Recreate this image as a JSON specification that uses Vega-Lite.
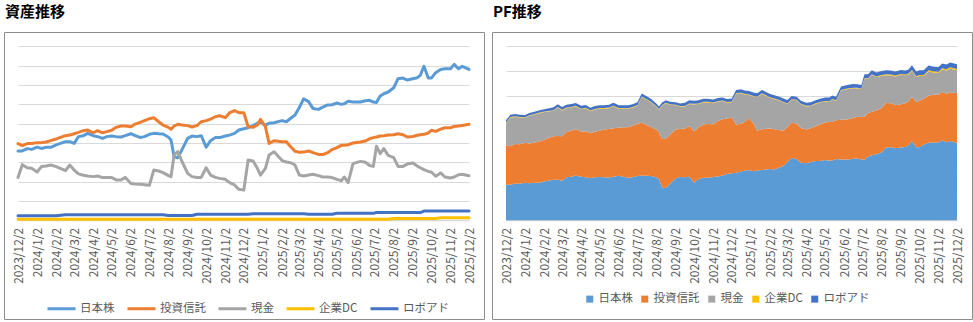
{
  "$schema": "https://vega.github.io/schema/vega-lite/v6.json",
  "background": "white",
  "padding": {"left": 3, "top": 4, "right": 0, "bottom": 0},
  "spacing": 8,
  "bounds": "flush",
  "config": {
    "font": "Noto Sans CJK JP",
    "view": {"stroke": "#8c8c8c", "strokeWidth": 1},
    "title": {"fontSize": 15, "fontWeight": "bold", "color": "#000000", "anchor": "start", "offset": 12, "dx": 1, "font": "Noto Sans CJK JP"},
    "legend": {"labelFontSize": 11.5, "labelColor": "#595959", "labelFont": "Noto Sans CJK JP", "direction": "horizontal", "columns": 5, "labelOffset": 3, "columnPadding": 6}
  },
  "resolve": {"scale": {"x": "independent", "y": "independent", "color": "independent"}, "legend": {"color": "independent"}},
  "datasets": {
    "d": [
      {"d":"2023/12/02","s":"日本株","v":3.59,"k":1},{"d":"2023/12/02","s":"投資信託","v":3.97,"k":2},{"d":"2023/12/02","s":"現金","v":2.22,"k":3},{"d":"2023/12/02","s":"企業DC","v":0.06,"k":4},{"d":"2023/12/02","s":"ロボアド","v":0.23,"k":5},
      {"d":"2023/12/09","s":"日本株","v":3.59,"k":1},{"d":"2023/12/09","s":"投資信託","v":3.86,"k":2},{"d":"2023/12/09","s":"現金","v":2.88,"k":3},{"d":"2023/12/09","s":"企業DC","v":0.06,"k":4},{"d":"2023/12/09","s":"ロボアド","v":0.23,"k":5},
      {"d":"2023/12/17","s":"日本株","v":3.71,"k":1},{"d":"2023/12/17","s":"投資信託","v":3.97,"k":2},{"d":"2023/12/17","s":"現金","v":2.72,"k":3},{"d":"2023/12/17","s":"企業DC","v":0.06,"k":4},{"d":"2023/12/17","s":"ロボアド","v":0.23,"k":5},
      {"d":"2023/12/24","s":"日本株","v":3.67,"k":1},{"d":"2023/12/24","s":"投資信託","v":3.98,"k":2},{"d":"2023/12/24","s":"現金","v":2.69,"k":3},{"d":"2023/12/24","s":"企業DC","v":0.06,"k":4},{"d":"2023/12/24","s":"ロボアド","v":0.23,"k":5},
      {"d":"2024/01/02","s":"日本株","v":3.79,"k":1},{"d":"2024/01/02","s":"投資信託","v":4.02,"k":2},{"d":"2024/01/02","s":"現金","v":2.50,"k":3},{"d":"2024/01/02","s":"企業DC","v":0.06,"k":4},{"d":"2024/01/02","s":"ロボアド","v":0.23,"k":5},
      {"d":"2024/01/09","s":"日本株","v":3.72,"k":1},{"d":"2024/01/09","s":"投資信託","v":4.02,"k":2},{"d":"2024/01/09","s":"現金","v":2.78,"k":3},{"d":"2024/01/09","s":"企業DC","v":0.06,"k":4},{"d":"2024/01/09","s":"ロボアド","v":0.23,"k":5},
      {"d":"2024/01/17","s":"日本株","v":3.78,"k":1},{"d":"2024/01/17","s":"投資信託","v":4.05,"k":2},{"d":"2024/01/17","s":"現金","v":2.81,"k":3},{"d":"2024/01/17","s":"企業DC","v":0.06,"k":4},{"d":"2024/01/17","s":"ロボアド","v":0.23,"k":5},
      {"d":"2024/01/24","s":"日本株","v":3.78,"k":1},{"d":"2024/01/24","s":"投資信託","v":4.12,"k":2},{"d":"2024/01/24","s":"現金","v":2.86,"k":3},{"d":"2024/01/24","s":"企業DC","v":0.06,"k":4},{"d":"2024/01/24","s":"ロボアド","v":0.23,"k":5},
      {"d":"2024/02/02","s":"日本株","v":3.90,"k":1},{"d":"2024/02/02","s":"投資信託","v":4.21,"k":2},{"d":"2024/02/02","s":"現金","v":2.78,"k":3},{"d":"2024/02/02","s":"企業DC","v":0.06,"k":4},{"d":"2024/02/02","s":"ロボアド","v":0.23,"k":5},
      {"d":"2024/02/17","s":"日本株","v":4.07,"k":1},{"d":"2024/02/17","s":"投資信託","v":4.38,"k":2},{"d":"2024/02/17","s":"現金","v":2.57,"k":3},{"d":"2024/02/17","s":"企業DC","v":0.06,"k":4},{"d":"2024/02/17","s":"ロボアド","v":0.29,"k":5},
      {"d":"2024/02/24","s":"日本株","v":4.07,"k":1},{"d":"2024/02/24","s":"投資信託","v":4.41,"k":2},{"d":"2024/02/24","s":"現金","v":2.86,"k":3},{"d":"2024/02/24","s":"企業DC","v":0.06,"k":4},{"d":"2024/02/24","s":"ロボアド","v":0.29,"k":5},
      {"d":"2024/03/02","s":"日本株","v":3.98,"k":1},{"d":"2024/03/02","s":"投資信託","v":4.48,"k":2},{"d":"2024/03/02","s":"現金","v":2.60,"k":3},{"d":"2024/03/02","s":"企業DC","v":0.06,"k":4},{"d":"2024/03/02","s":"ロボアド","v":0.29,"k":5},
      {"d":"2024/03/09","s":"日本株","v":4.33,"k":1},{"d":"2024/03/09","s":"投資信託","v":4.55,"k":2},{"d":"2024/03/09","s":"現金","v":2.40,"k":3},{"d":"2024/03/09","s":"企業DC","v":0.06,"k":4},{"d":"2024/03/09","s":"ロボアド","v":0.29,"k":5},
      {"d":"2024/03/17","s":"日本株","v":4.38,"k":1},{"d":"2024/03/17","s":"投資信託","v":4.64,"k":2},{"d":"2024/03/17","s":"現金","v":2.33,"k":3},{"d":"2024/03/17","s":"企業DC","v":0.06,"k":4},{"d":"2024/03/17","s":"ロボアド","v":0.29,"k":5},
      {"d":"2024/03/24","s":"日本株","v":4.50,"k":1},{"d":"2024/03/24","s":"投資信託","v":4.67,"k":2},{"d":"2024/03/24","s":"現金","v":2.29,"k":3},{"d":"2024/03/24","s":"企業DC","v":0.06,"k":4},{"d":"2024/03/24","s":"ロボアド","v":0.29,"k":5},
      {"d":"2024/04/02","s":"日本株","v":4.38,"k":1},{"d":"2024/04/02","s":"投資信託","v":4.53,"k":2},{"d":"2024/04/02","s":"現金","v":2.26,"k":3},{"d":"2024/04/02","s":"企業DC","v":0.06,"k":4},{"d":"2024/04/02","s":"ロボアド","v":0.29,"k":5},
      {"d":"2024/04/09","s":"日本株","v":4.33,"k":1},{"d":"2024/04/09","s":"投資信託","v":4.64,"k":2},{"d":"2024/04/09","s":"現金","v":2.29,"k":3},{"d":"2024/04/09","s":"企業DC","v":0.06,"k":4},{"d":"2024/04/09","s":"ロボアド","v":0.29,"k":5},
      {"d":"2024/04/17","s":"日本株","v":4.24,"k":1},{"d":"2024/04/17","s":"投資信託","v":4.53,"k":2},{"d":"2024/04/17","s":"現金","v":2.21,"k":3},{"d":"2024/04/17","s":"企業DC","v":0.06,"k":4},{"d":"2024/04/17","s":"ロボアド","v":0.29,"k":5},
      {"d":"2024/04/24","s":"日本株","v":4.33,"k":1},{"d":"2024/04/24","s":"投資信託","v":4.59,"k":2},{"d":"2024/04/24","s":"現金","v":2.22,"k":3},{"d":"2024/04/24","s":"企業DC","v":0.06,"k":4},{"d":"2024/04/24","s":"ロボアド","v":0.29,"k":5},
      {"d":"2024/05/02","s":"日本株","v":4.36,"k":1},{"d":"2024/05/02","s":"投資信託","v":4.66,"k":2},{"d":"2024/05/02","s":"現金","v":2.21,"k":3},{"d":"2024/05/02","s":"企業DC","v":0.06,"k":4},{"d":"2024/05/02","s":"ロボアド","v":0.29,"k":5},
      {"d":"2024/05/09","s":"日本株","v":4.33,"k":1},{"d":"2024/05/09","s":"投資信託","v":4.81,"k":2},{"d":"2024/05/09","s":"現金","v":2.09,"k":3},{"d":"2024/05/09","s":"企業DC","v":0.06,"k":4},{"d":"2024/05/09","s":"ロボアド","v":0.29,"k":5},
      {"d":"2024/05/17","s":"日本株","v":4.31,"k":1},{"d":"2024/05/17","s":"投資信託","v":4.88,"k":2},{"d":"2024/05/17","s":"現金","v":2.09,"k":3},{"d":"2024/05/17","s":"企業DC","v":0.06,"k":4},{"d":"2024/05/17","s":"ロボアド","v":0.29,"k":5},
      {"d":"2024/05/24","s":"日本株","v":4.38,"k":1},{"d":"2024/05/24","s":"投資信託","v":4.88,"k":2},{"d":"2024/05/24","s":"現金","v":2.22,"k":3},{"d":"2024/05/24","s":"企業DC","v":0.06,"k":4},{"d":"2024/05/24","s":"ロボアド","v":0.29,"k":5},
      {"d":"2024/06/02","s":"日本株","v":4.48,"k":1},{"d":"2024/06/02","s":"投資信託","v":4.84,"k":2},{"d":"2024/06/02","s":"現金","v":1.91,"k":3},{"d":"2024/06/02","s":"企業DC","v":0.06,"k":4},{"d":"2024/06/02","s":"ロボアド","v":0.29,"k":5},
      {"d":"2024/06/09","s":"日本株","v":4.38,"k":1},{"d":"2024/06/09","s":"投資信託","v":4.98,"k":2},{"d":"2024/06/09","s":"現金","v":1.88,"k":3},{"d":"2024/06/09","s":"企業DC","v":0.06,"k":4},{"d":"2024/06/09","s":"ロボアド","v":0.29,"k":5},
      {"d":"2024/06/17","s":"日本株","v":4.29,"k":1},{"d":"2024/06/17","s":"投資信託","v":5.07,"k":2},{"d":"2024/06/17","s":"現金","v":1.86,"k":3},{"d":"2024/06/17","s":"企業DC","v":0.06,"k":4},{"d":"2024/06/17","s":"ロボアド","v":0.29,"k":5},
      {"d":"2024/06/24","s":"日本株","v":4.33,"k":1},{"d":"2024/06/24","s":"投資信託","v":5.16,"k":2},{"d":"2024/06/24","s":"現金","v":1.84,"k":3},{"d":"2024/06/24","s":"企業DC","v":0.06,"k":4},{"d":"2024/06/24","s":"ロボアド","v":0.29,"k":5},
      {"d":"2024/07/02","s":"日本株","v":4.45,"k":1},{"d":"2024/07/02","s":"投資信託","v":5.26,"k":2},{"d":"2024/07/02","s":"現金","v":1.81,"k":3},{"d":"2024/07/02","s":"企業DC","v":0.06,"k":4},{"d":"2024/07/02","s":"ロボアド","v":0.29,"k":5},
      {"d":"2024/07/09","s":"日本株","v":4.50,"k":1},{"d":"2024/07/09","s":"投資信託","v":5.31,"k":2},{"d":"2024/07/09","s":"現金","v":2.60,"k":3},{"d":"2024/07/09","s":"企業DC","v":0.06,"k":4},{"d":"2024/07/09","s":"ロボアド","v":0.29,"k":5},
      {"d":"2024/07/17","s":"日本株","v":4.48,"k":1},{"d":"2024/07/17","s":"投資信託","v":5.10,"k":2},{"d":"2024/07/17","s":"現金","v":2.55,"k":3},{"d":"2024/07/17","s":"企業DC","v":0.06,"k":4},{"d":"2024/07/17","s":"ロボアド","v":0.29,"k":5},
      {"d":"2024/07/24","s":"日本株","v":4.47,"k":1},{"d":"2024/07/24","s":"投資信託","v":4.93,"k":2},{"d":"2024/07/24","s":"現金","v":2.47,"k":3},{"d":"2024/07/24","s":"企業DC","v":0.06,"k":4},{"d":"2024/07/24","s":"ロボアド","v":0.29,"k":5},
      {"d":"2024/08/02","s":"日本株","v":4.30,"k":1},{"d":"2024/08/02","s":"投資信託","v":4.81,"k":2},{"d":"2024/08/02","s":"現金","v":2.31,"k":3},{"d":"2024/08/02","s":"企業DC","v":0.06,"k":4},{"d":"2024/08/02","s":"ロボアド","v":0.25,"k":5},
      {"d":"2024/08/06","s":"日本株","v":4.16,"k":1},{"d":"2024/08/06","s":"投資信託","v":4.71,"k":2},{"d":"2024/08/06","s":"現金","v":2.26,"k":3},{"d":"2024/08/06","s":"企業DC","v":0.06,"k":4},{"d":"2024/08/06","s":"ロボアド","v":0.25,"k":5},
      {"d":"2024/08/11","s":"日本株","v":3.29,"k":1},{"d":"2024/08/11","s":"投資信託","v":4.88,"k":2},{"d":"2024/08/11","s":"現金","v":3.38,"k":3},{"d":"2024/08/11","s":"企業DC","v":0.06,"k":4},{"d":"2024/08/11","s":"ロボアド","v":0.25,"k":5},
      {"d":"2024/08/17","s":"日本株","v":3.24,"k":1},{"d":"2024/08/17","s":"投資信託","v":4.97,"k":2},{"d":"2024/08/17","s":"現金","v":3.55,"k":3},{"d":"2024/08/17","s":"企業DC","v":0.06,"k":4},{"d":"2024/08/17","s":"ロボアド","v":0.25,"k":5},
      {"d":"2024/08/24","s":"日本株","v":3.67,"k":1},{"d":"2024/08/24","s":"投資信託","v":4.93,"k":2},{"d":"2024/08/24","s":"現金","v":3.03,"k":3},{"d":"2024/08/24","s":"企業DC","v":0.06,"k":4},{"d":"2024/08/24","s":"ロボアド","v":0.25,"k":5},
      {"d":"2024/09/02","s":"日本株","v":4.24,"k":1},{"d":"2024/09/02","s":"投資信託","v":4.90,"k":2},{"d":"2024/09/02","s":"現金","v":2.43,"k":3},{"d":"2024/09/02","s":"企業DC","v":0.06,"k":4},{"d":"2024/09/02","s":"ロボアド","v":0.25,"k":5},
      {"d":"2024/09/09","s":"日本株","v":4.36,"k":1},{"d":"2024/09/09","s":"投資信託","v":4.83,"k":2},{"d":"2024/09/09","s":"現金","v":2.26,"k":3},{"d":"2024/09/09","s":"企業DC","v":0.06,"k":4},{"d":"2024/09/09","s":"ロボアド","v":0.25,"k":5},
      {"d":"2024/09/17","s":"日本株","v":4.33,"k":1},{"d":"2024/09/17","s":"投資信託","v":4.90,"k":2},{"d":"2024/09/17","s":"現金","v":2.22,"k":3},{"d":"2024/09/17","s":"企業DC","v":0.06,"k":4},{"d":"2024/09/17","s":"ロボアド","v":0.31,"k":5},
      {"d":"2024/09/24","s":"日本株","v":4.38,"k":1},{"d":"2024/09/24","s":"投資信託","v":5.10,"k":2},{"d":"2024/09/24","s":"現金","v":2.22,"k":3},{"d":"2024/09/24","s":"企業DC","v":0.06,"k":4},{"d":"2024/09/24","s":"ロボアド","v":0.31,"k":5},
      {"d":"2024/10/02","s":"日本株","v":3.78,"k":1},{"d":"2024/10/02","s":"投資信託","v":5.16,"k":2},{"d":"2024/10/02","s":"現金","v":2.72,"k":3},{"d":"2024/10/02","s":"企業DC","v":0.06,"k":4},{"d":"2024/10/02","s":"ロボアド","v":0.31,"k":5},
      {"d":"2024/10/09","s":"日本株","v":4.12,"k":1},{"d":"2024/10/09","s":"投資信託","v":5.24,"k":2},{"d":"2024/10/09","s":"現金","v":2.34,"k":3},{"d":"2024/10/09","s":"企業DC","v":0.06,"k":4},{"d":"2024/10/09","s":"ロボアド","v":0.31,"k":5},
      {"d":"2024/10/17","s":"日本株","v":4.28,"k":1},{"d":"2024/10/17","s":"投資信託","v":5.36,"k":2},{"d":"2024/10/17","s":"現金","v":2.22,"k":3},{"d":"2024/10/17","s":"企業DC","v":0.06,"k":4},{"d":"2024/10/17","s":"ロボアド","v":0.31,"k":5},
      {"d":"2024/10/24","s":"日本株","v":4.28,"k":1},{"d":"2024/10/24","s":"投資信託","v":5.41,"k":2},{"d":"2024/10/24","s":"現金","v":2.17,"k":3},{"d":"2024/10/24","s":"企業DC","v":0.06,"k":4},{"d":"2024/10/24","s":"ロボアド","v":0.31,"k":5},
      {"d":"2024/11/02","s":"日本株","v":4.36,"k":1},{"d":"2024/11/02","s":"投資信託","v":5.31,"k":2},{"d":"2024/11/02","s":"現金","v":2.12,"k":3},{"d":"2024/11/02","s":"企業DC","v":0.06,"k":4},{"d":"2024/11/02","s":"ロボアド","v":0.31,"k":5},
      {"d":"2024/11/09","s":"日本株","v":4.41,"k":1},{"d":"2024/11/09","s":"投資信託","v":5.57,"k":2},{"d":"2024/11/09","s":"現金","v":1.95,"k":3},{"d":"2024/11/09","s":"企業DC","v":0.06,"k":4},{"d":"2024/11/09","s":"ロボアド","v":0.31,"k":5},
      {"d":"2024/11/17","s":"日本株","v":4.50,"k":1},{"d":"2024/11/17","s":"投資信託","v":5.67,"k":2},{"d":"2024/11/17","s":"現金","v":1.83,"k":3},{"d":"2024/11/17","s":"企業DC","v":0.06,"k":4},{"d":"2024/11/17","s":"ロボアド","v":0.31,"k":5},
      {"d":"2024/11/24","s":"日本株","v":4.67,"k":1},{"d":"2024/11/24","s":"投資信託","v":5.57,"k":2},{"d":"2024/11/24","s":"現金","v":1.60,"k":3},{"d":"2024/11/24","s":"企業DC","v":0.06,"k":4},{"d":"2024/11/24","s":"ロボアド","v":0.31,"k":5},
      {"d":"2024/12/02","s":"日本株","v":4.74,"k":1},{"d":"2024/12/02","s":"投資信託","v":5.57,"k":2},{"d":"2024/12/02","s":"現金","v":1.57,"k":3},{"d":"2024/12/02","s":"企業DC","v":0.06,"k":4},{"d":"2024/12/02","s":"ロボアド","v":0.31,"k":5},
      {"d":"2024/12/09","s":"日本株","v":4.79,"k":1},{"d":"2024/12/09","s":"投資信託","v":4.84,"k":2},{"d":"2024/12/09","s":"現金","v":3.12,"k":3},{"d":"2024/12/09","s":"企業DC","v":0.06,"k":4},{"d":"2024/12/09","s":"ロボアド","v":0.31,"k":5},
      {"d":"2024/12/17","s":"日本株","v":4.90,"k":1},{"d":"2024/12/17","s":"投資信託","v":4.81,"k":2},{"d":"2024/12/17","s":"現金","v":3.07,"k":3},{"d":"2024/12/17","s":"企業DC","v":0.06,"k":4},{"d":"2024/12/17","s":"ロボアド","v":0.34,"k":5},
      {"d":"2024/12/24","s":"日本株","v":5.02,"k":1},{"d":"2024/12/24","s":"投資信託","v":4.93,"k":2},{"d":"2024/12/24","s":"現金","v":2.69,"k":3},{"d":"2024/12/24","s":"企業DC","v":0.06,"k":4},{"d":"2024/12/24","s":"ロボアド","v":0.34,"k":5},
      {"d":"2024/12/29","s":"日本株","v":5.07,"k":1},{"d":"2024/12/29","s":"投資信託","v":5.22,"k":2},{"d":"2024/12/29","s":"現金","v":2.34,"k":3},{"d":"2024/12/29","s":"企業DC","v":0.06,"k":4},{"d":"2024/12/29","s":"ロボアド","v":0.34,"k":5},
      {"d":"2025/01/06","s":"日本株","v":4.93,"k":1},{"d":"2025/01/06","s":"投資信託","v":4.84,"k":2},{"d":"2025/01/06","s":"現金","v":2.69,"k":3},{"d":"2025/01/06","s":"企業DC","v":0.06,"k":4},{"d":"2025/01/06","s":"ロボアド","v":0.34,"k":5},
      {"d":"2025/01/12","s":"日本株","v":5.02,"k":1},{"d":"2025/01/12","s":"投資信託","v":3.98,"k":2},{"d":"2025/01/12","s":"現金","v":3.38,"k":3},{"d":"2025/01/12","s":"企業DC","v":0.06,"k":4},{"d":"2025/01/12","s":"ロボアド","v":0.34,"k":5},
      {"d":"2025/01/20","s":"日本株","v":5.05,"k":1},{"d":"2025/01/20","s":"投資信託","v":4.12,"k":2},{"d":"2025/01/20","s":"現金","v":3.55,"k":3},{"d":"2025/01/20","s":"企業DC","v":0.06,"k":4},{"d":"2025/01/20","s":"ロボアド","v":0.34,"k":5},
      {"d":"2025/02/02","s":"日本株","v":5.16,"k":1},{"d":"2025/02/02","s":"投資信託","v":4.07,"k":2},{"d":"2025/02/02","s":"現金","v":3.09,"k":3},{"d":"2025/02/02","s":"企業DC","v":0.06,"k":4},{"d":"2025/02/02","s":"ロボアド","v":0.34,"k":5},
      {"d":"2025/02/09","s":"日本株","v":5.10,"k":1},{"d":"2025/02/09","s":"投資信託","v":4.07,"k":2},{"d":"2025/02/09","s":"現金","v":3.02,"k":3},{"d":"2025/02/09","s":"企業DC","v":0.06,"k":4},{"d":"2025/02/09","s":"ロボアド","v":0.34,"k":5},
      {"d":"2025/02/16","s":"日本株","v":5.28,"k":1},{"d":"2025/02/16","s":"投資信託","v":3.81,"k":2},{"d":"2025/02/16","s":"現金","v":2.98,"k":3},{"d":"2025/02/16","s":"企業DC","v":0.06,"k":4},{"d":"2025/02/16","s":"ロボアド","v":0.34,"k":5},
      {"d":"2025/02/23","s":"日本株","v":5.45,"k":1},{"d":"2025/02/23","s":"投資信託","v":3.57,"k":2},{"d":"2025/02/23","s":"現金","v":2.86,"k":3},{"d":"2025/02/23","s":"企業DC","v":0.06,"k":4},{"d":"2025/02/23","s":"ロボアド","v":0.34,"k":5},
      {"d":"2025/03/02","s":"日本株","v":5.84,"k":1},{"d":"2025/03/02","s":"投資信託","v":3.52,"k":2},{"d":"2025/03/02","s":"現金","v":2.34,"k":3},{"d":"2025/03/02","s":"企業DC","v":0.06,"k":4},{"d":"2025/03/02","s":"ロボアド","v":0.34,"k":5},
      {"d":"2025/03/09","s":"日本株","v":6.29,"k":1},{"d":"2025/03/09","s":"投資信託","v":3.53,"k":2},{"d":"2025/03/09","s":"現金","v":2.29,"k":3},{"d":"2025/03/09","s":"企業DC","v":0.06,"k":4},{"d":"2025/03/09","s":"ロボアド","v":0.34,"k":5},
      {"d":"2025/03/17","s":"日本株","v":6.14,"k":1},{"d":"2025/03/17","s":"投資信託","v":3.59,"k":2},{"d":"2025/03/17","s":"現金","v":2.34,"k":3},{"d":"2025/03/17","s":"企業DC","v":0.06,"k":4},{"d":"2025/03/17","s":"ロボアド","v":0.31,"k":5},
      {"d":"2025/03/24","s":"日本株","v":5.79,"k":1},{"d":"2025/03/24","s":"投資信託","v":3.50,"k":2},{"d":"2025/03/24","s":"現金","v":2.38,"k":3},{"d":"2025/03/24","s":"企業DC","v":0.06,"k":4},{"d":"2025/03/24","s":"ロボアド","v":0.31,"k":5},
      {"d":"2025/04/02","s":"日本株","v":5.74,"k":1},{"d":"2025/04/02","s":"投資信託","v":3.41,"k":2},{"d":"2025/04/02","s":"現金","v":2.31,"k":3},{"d":"2025/04/02","s":"企業DC","v":0.06,"k":4},{"d":"2025/04/02","s":"ロボアド","v":0.31,"k":5},
      {"d":"2025/04/09","s":"日本株","v":5.86,"k":1},{"d":"2025/04/09","s":"投資信託","v":3.40,"k":2},{"d":"2025/04/09","s":"現金","v":2.24,"k":3},{"d":"2025/04/09","s":"企業DC","v":0.06,"k":4},{"d":"2025/04/09","s":"ロボアド","v":0.31,"k":5},
      {"d":"2025/04/17","s":"日本株","v":5.97,"k":1},{"d":"2025/04/17","s":"投資信託","v":3.50,"k":2},{"d":"2025/04/17","s":"現金","v":2.24,"k":3},{"d":"2025/04/17","s":"企業DC","v":0.06,"k":4},{"d":"2025/04/17","s":"ロボアド","v":0.31,"k":5},
      {"d":"2025/04/24","s":"日本株","v":5.98,"k":1},{"d":"2025/04/24","s":"投資信託","v":3.66,"k":2},{"d":"2025/04/24","s":"現金","v":2.21,"k":3},{"d":"2025/04/24","s":"企業DC","v":0.06,"k":4},{"d":"2025/04/24","s":"ロボアド","v":0.31,"k":5},
      {"d":"2025/05/02","s":"日本株","v":6.07,"k":1},{"d":"2025/05/02","s":"投資信託","v":3.76,"k":2},{"d":"2025/05/02","s":"現金","v":2.12,"k":3},{"d":"2025/05/02","s":"企業DC","v":0.06,"k":4},{"d":"2025/05/02","s":"ロボアド","v":0.36,"k":5},
      {"d":"2025/05/09","s":"日本株","v":6.00,"k":1},{"d":"2025/05/09","s":"投資信託","v":3.88,"k":2},{"d":"2025/05/09","s":"現金","v":2.05,"k":3},{"d":"2025/05/09","s":"企業DC","v":0.06,"k":4},{"d":"2025/05/09","s":"ロボアド","v":0.36,"k":5},
      {"d":"2025/05/14","s":"日本株","v":6.03,"k":1},{"d":"2025/05/14","s":"投資信託","v":3.88,"k":2},{"d":"2025/05/14","s":"現金","v":2.24,"k":3},{"d":"2025/05/14","s":"企業DC","v":0.06,"k":4},{"d":"2025/05/14","s":"ロボアド","v":0.36,"k":5},
      {"d":"2025/05/20","s":"日本株","v":6.16,"k":1},{"d":"2025/05/20","s":"投資信託","v":3.91,"k":2},{"d":"2025/05/20","s":"現金","v":1.95,"k":3},{"d":"2025/05/20","s":"企業DC","v":0.06,"k":4},{"d":"2025/05/20","s":"ロボアド","v":0.36,"k":5},
      {"d":"2025/05/28","s":"日本株","v":6.12,"k":1},{"d":"2025/05/28","s":"投資信託","v":4.00,"k":2},{"d":"2025/05/28","s":"現金","v":2.93,"k":3},{"d":"2025/05/28","s":"企業DC","v":0.06,"k":4},{"d":"2025/05/28","s":"ロボアド","v":0.36,"k":5},
      {"d":"2025/06/09","s":"日本株","v":6.12,"k":1},{"d":"2025/06/09","s":"投資信託","v":4.05,"k":2},{"d":"2025/06/09","s":"現金","v":3.05,"k":3},{"d":"2025/06/09","s":"企業DC","v":0.06,"k":4},{"d":"2025/06/09","s":"ロボアド","v":0.36,"k":5},
      {"d":"2025/06/17","s":"日本株","v":6.19,"k":1},{"d":"2025/06/17","s":"投資信託","v":4.10,"k":2},{"d":"2025/06/17","s":"現金","v":3.00,"k":3},{"d":"2025/06/17","s":"企業DC","v":0.06,"k":4},{"d":"2025/06/17","s":"ロボアド","v":0.36,"k":5},
      {"d":"2025/06/24","s":"日本株","v":6.21,"k":1},{"d":"2025/06/24","s":"投資信託","v":4.22,"k":2},{"d":"2025/06/24","s":"現金","v":2.84,"k":3},{"d":"2025/06/24","s":"企業DC","v":0.06,"k":4},{"d":"2025/06/24","s":"ロボアド","v":0.36,"k":5},
      {"d":"2025/06/30","s":"日本株","v":6.12,"k":1},{"d":"2025/06/30","s":"投資信託","v":4.28,"k":2},{"d":"2025/06/30","s":"現金","v":2.79,"k":3},{"d":"2025/06/30","s":"企業DC","v":0.06,"k":4},{"d":"2025/06/30","s":"ロボアド","v":0.36,"k":5},
      {"d":"2025/07/05","s":"日本株","v":6.10,"k":1},{"d":"2025/07/05","s":"投資信託","v":4.31,"k":2},{"d":"2025/07/05","s":"現金","v":3.83,"k":3},{"d":"2025/07/05","s":"企業DC","v":0.06,"k":4},{"d":"2025/07/05","s":"ロボアド","v":0.40,"k":5},
      {"d":"2025/07/11","s":"日本株","v":6.43,"k":1},{"d":"2025/07/11","s":"投資信託","v":4.36,"k":2},{"d":"2025/07/11","s":"現金","v":3.45,"k":3},{"d":"2025/07/11","s":"企業DC","v":0.06,"k":4},{"d":"2025/07/11","s":"ロボアド","v":0.40,"k":5},
      {"d":"2025/07/17","s":"日本株","v":6.55,"k":1},{"d":"2025/07/17","s":"投資信託","v":4.38,"k":2},{"d":"2025/07/17","s":"現金","v":3.71,"k":3},{"d":"2025/07/17","s":"企業DC","v":0.06,"k":4},{"d":"2025/07/17","s":"ロボアド","v":0.40,"k":5},
      {"d":"2025/07/24","s":"日本株","v":6.64,"k":1},{"d":"2025/07/24","s":"投資信託","v":4.41,"k":2},{"d":"2025/07/24","s":"現金","v":3.36,"k":3},{"d":"2025/07/24","s":"企業DC","v":0.06,"k":4},{"d":"2025/07/24","s":"ロボアド","v":0.40,"k":5},
      {"d":"2025/08/02","s":"日本株","v":6.86,"k":1},{"d":"2025/08/02","s":"投資信託","v":4.43,"k":2},{"d":"2025/08/02","s":"現金","v":3.24,"k":3},{"d":"2025/08/02","s":"企業DC","v":0.09,"k":4},{"d":"2025/08/02","s":"ロボアド","v":0.40,"k":5},
      {"d":"2025/08/09","s":"日本株","v":7.33,"k":1},{"d":"2025/08/09","s":"投資信託","v":4.48,"k":2},{"d":"2025/08/09","s":"現金","v":2.79,"k":3},{"d":"2025/08/09","s":"企業DC","v":0.09,"k":4},{"d":"2025/08/09","s":"ロボアド","v":0.40,"k":5},
      {"d":"2025/08/17","s":"日本株","v":7.36,"k":1},{"d":"2025/08/17","s":"投資信託","v":4.43,"k":2},{"d":"2025/08/17","s":"現金","v":2.79,"k":3},{"d":"2025/08/17","s":"企業DC","v":0.09,"k":4},{"d":"2025/08/17","s":"ロボアド","v":0.40,"k":5},
      {"d":"2025/08/24","s":"日本株","v":7.26,"k":1},{"d":"2025/08/24","s":"投資信託","v":4.31,"k":2},{"d":"2025/08/24","s":"現金","v":2.91,"k":3},{"d":"2025/08/24","s":"企業DC","v":0.09,"k":4},{"d":"2025/08/24","s":"ロボアド","v":0.40,"k":5},
      {"d":"2025/09/02","s":"日本株","v":7.33,"k":1},{"d":"2025/09/02","s":"投資信託","v":4.34,"k":2},{"d":"2025/09/02","s":"現金","v":2.97,"k":3},{"d":"2025/09/02","s":"企業DC","v":0.09,"k":4},{"d":"2025/09/02","s":"ロボアド","v":0.40,"k":5},
      {"d":"2025/09/09","s":"日本株","v":7.38,"k":1},{"d":"2025/09/09","s":"投資信託","v":4.40,"k":2},{"d":"2025/09/09","s":"現金","v":2.81,"k":3},{"d":"2025/09/09","s":"企業DC","v":0.09,"k":4},{"d":"2025/09/09","s":"ロボアド","v":0.40,"k":5},
      {"d":"2025/09/14","s":"日本株","v":7.50,"k":1},{"d":"2025/09/14","s":"投資信託","v":4.43,"k":2},{"d":"2025/09/14","s":"現金","v":2.72,"k":3},{"d":"2025/09/14","s":"企業DC","v":0.09,"k":4},{"d":"2025/09/14","s":"ロボアド","v":0.40,"k":5},
      {"d":"2025/09/20","s":"日本株","v":7.97,"k":1},{"d":"2025/09/20","s":"投資信託","v":4.45,"k":2},{"d":"2025/09/20","s":"現金","v":2.62,"k":3},{"d":"2025/09/20","s":"企業DC","v":0.09,"k":4},{"d":"2025/09/20","s":"ロボアド","v":0.48,"k":5},
      {"d":"2025/09/27","s":"日本株","v":7.36,"k":1},{"d":"2025/09/27","s":"投資信託","v":4.52,"k":2},{"d":"2025/09/27","s":"現金","v":2.53,"k":3},{"d":"2025/09/27","s":"企業DC","v":0.09,"k":4},{"d":"2025/09/27","s":"ロボアド","v":0.48,"k":5},
      {"d":"2025/10/02","s":"日本株","v":7.36,"k":1},{"d":"2025/10/02","s":"投資信託","v":4.66,"k":2},{"d":"2025/10/02","s":"現金","v":2.50,"k":3},{"d":"2025/10/02","s":"企業DC","v":0.09,"k":4},{"d":"2025/10/02","s":"ロボアド","v":0.48,"k":5},
      {"d":"2025/10/09","s":"日本株","v":7.64,"k":1},{"d":"2025/10/09","s":"投資信託","v":4.60,"k":2},{"d":"2025/10/09","s":"現金","v":2.28,"k":3},{"d":"2025/10/09","s":"企業DC","v":0.09,"k":4},{"d":"2025/10/09","s":"ロボアド","v":0.48,"k":5},
      {"d":"2025/10/17","s":"日本株","v":7.81,"k":1},{"d":"2025/10/17","s":"投資信託","v":4.72,"k":2},{"d":"2025/10/17","s":"現金","v":2.45,"k":3},{"d":"2025/10/17","s":"企業DC","v":0.13,"k":4},{"d":"2025/10/17","s":"ロボアド","v":0.48,"k":5},
      {"d":"2025/10/24","s":"日本株","v":7.84,"k":1},{"d":"2025/10/24","s":"投資信託","v":4.79,"k":2},{"d":"2025/10/24","s":"現金","v":2.24,"k":3},{"d":"2025/10/24","s":"企業DC","v":0.13,"k":4},{"d":"2025/10/24","s":"ロボアド","v":0.48,"k":5},
      {"d":"2025/11/02","s":"日本株","v":7.84,"k":1},{"d":"2025/11/02","s":"投資信託","v":4.79,"k":2},{"d":"2025/11/02","s":"現金","v":2.19,"k":3},{"d":"2025/11/02","s":"企業DC","v":0.13,"k":4},{"d":"2025/11/02","s":"ロボアド","v":0.48,"k":5},
      {"d":"2025/11/08","s":"日本株","v":8.07,"k":1},{"d":"2025/11/08","s":"投資信託","v":4.86,"k":2},{"d":"2025/11/08","s":"現金","v":2.24,"k":3},{"d":"2025/11/08","s":"企業DC","v":0.13,"k":4},{"d":"2025/11/08","s":"ロボアド","v":0.48,"k":5},
      {"d":"2025/11/15","s":"日本株","v":7.84,"k":1},{"d":"2025/11/15","s":"投資信託","v":4.88,"k":2},{"d":"2025/11/15","s":"現金","v":2.36,"k":3},{"d":"2025/11/15","s":"企業DC","v":0.13,"k":4},{"d":"2025/11/15","s":"ロボアド","v":0.48,"k":5},
      {"d":"2025/11/21","s":"日本株","v":7.97,"k":1},{"d":"2025/11/21","s":"投資信託","v":4.91,"k":2},{"d":"2025/11/21","s":"現金","v":2.38,"k":3},{"d":"2025/11/21","s":"企業DC","v":0.13,"k":4},{"d":"2025/11/21","s":"ロボアド","v":0.48,"k":5},
      {"d":"2025/12/02","s":"日本株","v":7.81,"k":1},{"d":"2025/12/02","s":"投資信託","v":4.97,"k":2},{"d":"2025/12/02","s":"現金","v":2.31,"k":3},{"d":"2025/12/02","s":"企業DC","v":0.13,"k":4},{"d":"2025/12/02","s":"ロボアド","v":0.48,"k":5}
    ]
  },
  "hconcat": [
    {
      "title": "資産推移",
      "width": 480,
      "height": 287,
      "data": {"name": "d"},
      "mark": {"type": "line", "strokeWidth": 3, "strokeJoin": "round", "strokeCap": "round"},
      "encoding": {
        "x": {
          "field": "d", "type": "temporal",
          "scale": {"domain": [{"year": 2023, "month": 12, "date": 2}, {"year": 2025, "month": 12, "date": 2}], "range": [14, 465]},
          "axis": {
            "title": null, "format": "%Y/%-m/%-d", "labelAngle": -90, "labelFontSize": 12, "labelColor": "#595959",
            "ticks": false, "labelPadding": 7, "domainColor": "#d9d9d9", "grid": false, "offset": -98.7,
            "labelOverlap": false, "labelFlush": false, "labelBound": false,
            "values": [
              {"year": 2023, "month": 12, "date": 2},
              {"year": 2024, "month": 1, "date": 2}, {"year": 2024, "month": 2, "date": 2}, {"year": 2024, "month": 3, "date": 2},
              {"year": 2024, "month": 4, "date": 2}, {"year": 2024, "month": 5, "date": 2}, {"year": 2024, "month": 6, "date": 2},
              {"year": 2024, "month": 7, "date": 2}, {"year": 2024, "month": 8, "date": 2}, {"year": 2024, "month": 9, "date": 2},
              {"year": 2024, "month": 10, "date": 2}, {"year": 2024, "month": 11, "date": 2}, {"year": 2024, "month": 12, "date": 2},
              {"year": 2025, "month": 1, "date": 2}, {"year": 2025, "month": 2, "date": 2}, {"year": 2025, "month": 3, "date": 2},
              {"year": 2025, "month": 4, "date": 2}, {"year": 2025, "month": 5, "date": 2}, {"year": 2025, "month": 6, "date": 2},
              {"year": 2025, "month": 7, "date": 2}, {"year": 2025, "month": 8, "date": 2}, {"year": 2025, "month": 9, "date": 2},
              {"year": 2025, "month": 10, "date": 2}, {"year": 2025, "month": 11, "date": 2}, {"year": 2025, "month": 12, "date": 2}
            ]
          }
        },
        "y": {
          "field": "v", "type": "quantitative",
          "scale": {"domain": [0, 9], "range": [188.3, 14.4], "nice": false},
          "axis": {"title": null, "values": [0, 1, 2, 3, 4, 5, 6, 7, 8, 9], "labels": false, "ticks": false, "domain": false, "grid": true, "gridColor": "#d9d9d9"}
        },
        "color": {
          "field": "s", "type": "nominal",
          "scale": {"domain": ["日本株", "投資信託", "現金", "企業DC", "ロボアド"], "range": ["#5b9bd5", "#ed7d31", "#a5a5a5", "#ffc000", "#4472c4"]},
          "legend": {"title": null, "orient": "none", "legendX": 42, "legendY": 261, "symbolType": "stroke", "symbolSize": 784, "symbolStrokeWidth": 3}
        }
      }
    },
    {
      "title": "PF推移",
      "width": 480,
      "height": 287,
      "data": {"name": "d"},
      "mark": {"type": "area", "interpolate": "linear"},
      "encoding": {
        "x": {
          "field": "d", "type": "temporal",
          "scale": {"domain": [{"year": 2023, "month": 12, "date": 2}, {"year": 2025, "month": 12, "date": 2}], "range": [14, 465]},
          "axis": {
            "title": null, "format": "%Y/%-m/%-d", "labelAngle": -90, "labelFontSize": 12, "labelColor": "#595959",
            "ticks": false, "labelPadding": 7, "domainColor": "#d9d9d9", "grid": false, "offset": -98.7,
            "labelOverlap": false, "labelFlush": false, "labelBound": false,
            "values": [
              {"year": 2023, "month": 12, "date": 2},
              {"year": 2024, "month": 1, "date": 2}, {"year": 2024, "month": 2, "date": 2}, {"year": 2024, "month": 3, "date": 2},
              {"year": 2024, "month": 4, "date": 2}, {"year": 2024, "month": 5, "date": 2}, {"year": 2024, "month": 6, "date": 2},
              {"year": 2024, "month": 7, "date": 2}, {"year": 2024, "month": 8, "date": 2}, {"year": 2024, "month": 9, "date": 2},
              {"year": 2024, "month": 10, "date": 2}, {"year": 2024, "month": 11, "date": 2}, {"year": 2024, "month": 12, "date": 2},
              {"year": 2025, "month": 1, "date": 2}, {"year": 2025, "month": 2, "date": 2}, {"year": 2025, "month": 3, "date": 2},
              {"year": 2025, "month": 4, "date": 2}, {"year": 2025, "month": 5, "date": 2}, {"year": 2025, "month": 6, "date": 2},
              {"year": 2025, "month": 7, "date": 2}, {"year": 2025, "month": 8, "date": 2}, {"year": 2025, "month": 9, "date": 2},
              {"year": 2025, "month": 10, "date": 2}, {"year": 2025, "month": 11, "date": 2}, {"year": 2025, "month": 12, "date": 2}
            ]
          }
        },
        "y": {
          "field": "v", "type": "quantitative", "stack": "zero",
          "scale": {"domain": [0, 17.5], "range": [188.3, 14.4], "nice": false},
          "axis": {"title": null, "values": [0, 2.5, 5, 7.5, 10, 12.5, 15, 17.5], "labels": false, "ticks": false, "domain": false, "grid": true, "gridColor": "#d9d9d9"}
        },
        "color": {
          "field": "s", "type": "nominal",
          "scale": {"domain": ["日本株", "投資信託", "現金", "企業DC", "ロボアド"], "range": ["#5b9bd5", "#ed7d31", "#a5a5a5", "#ffc000", "#4472c4"]},
          "legend": {"title": null, "orient": "none", "legendX": 92, "legendY": 261, "symbolType": "square", "symbolSize": 49, "symbolStrokeWidth": 0}
        },
        "order": {"field": "k", "type": "quantitative", "sort": "ascending"}
      }
    }
  ]
}
